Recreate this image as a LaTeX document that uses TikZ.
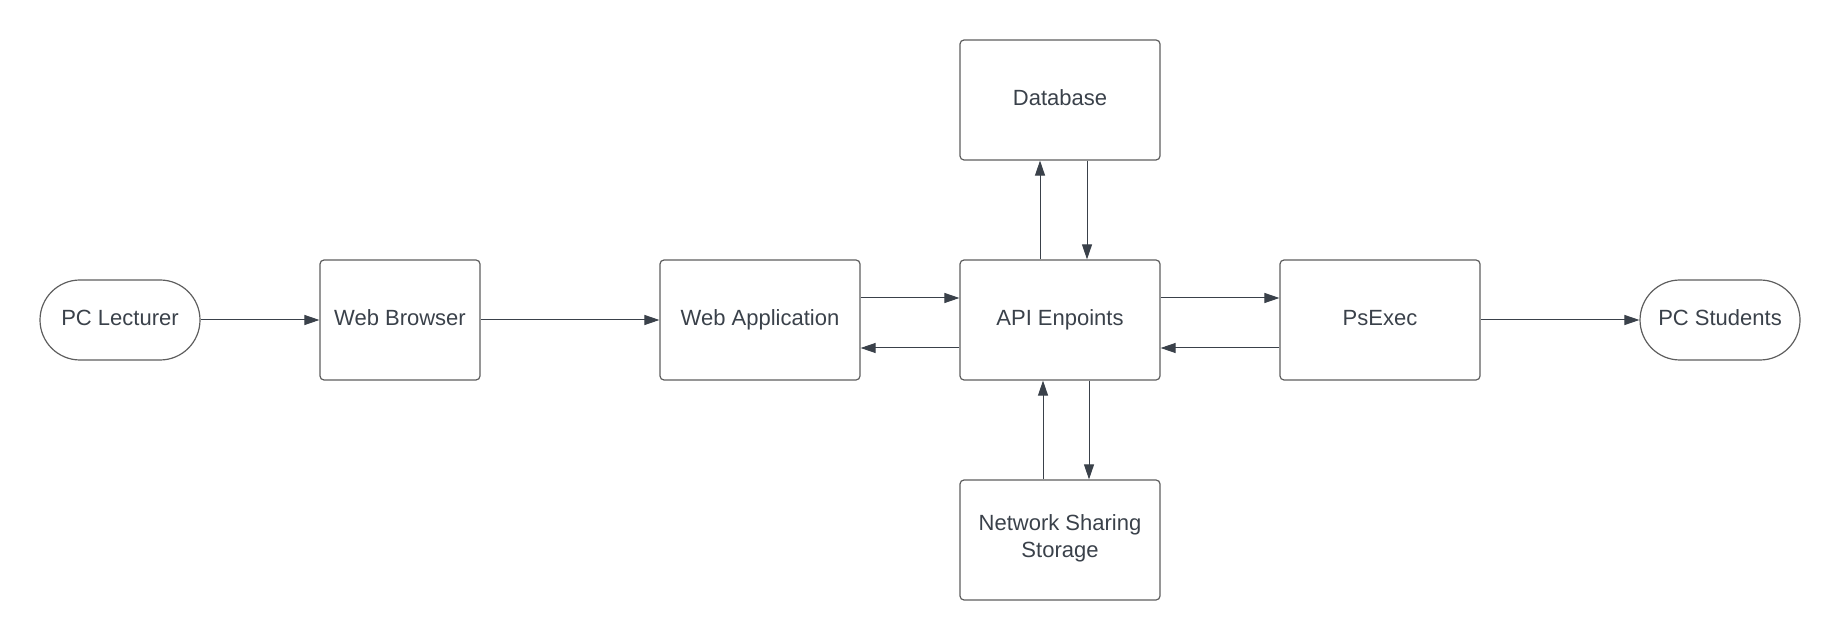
\documentclass[tikz,border=0pt]{standalone}
\usepackage{fontspec}
\setmainfont{Liberation Sans}
\usepackage{tikz}
\usetikzlibrary{arrows.meta}
\definecolor{lineclr}{HTML}{3A414A}
\definecolor{boxclr}{HTML}{5E5E5E}
\begin{document}
\begin{tikzpicture}[x=0.5pt,y=-0.5pt,
    >={Triangle[length=7.5pt,width=5pt]},
    box/.style={shape=rectangle,draw=boxclr,line width=0.6pt,rounded corners=2pt,minimum width=100pt,minimum height=60pt,inner sep=0pt,text=lineclr,align=center,text height=8pt,text depth=2pt},
    pc/.style={shape=rectangle,draw=boxclr,line width=0.6pt,rounded corners=20pt,minimum width=80pt,minimum height=40pt,inner sep=0pt,text=lineclr,text height=8pt,text depth=2pt},
    every path/.style={line width=0.5pt},
    font=\fontsize{11}{13.5}\selectfont]
        \useasboundingbox (0,0) rectangle (1840,640);
        \node[pc] (lect) at (120,320) {PC Lecturer};
        \node[box,minimum width=80pt] (browser) at (400,320) {Web Browser};
        \node[box] (webapp) at (760,320) {Web Application};
        \node[box] (api) at (1060,320) {API Enpoints};
        \node[box] (psexec) at (1380,320) {PsExec};
        \node[pc] (students) at (1720,320) {PC Students};
        \node[box] (db) at (1060,100) {Database};
        \node[box,text height=21.5pt,text depth=4.3pt] (nss) at (1060,540) {Network Sharing\\Storage};
        \draw [->,lineclr] (lect) -- (browser);
        \draw [->,lineclr] (browser) -- (webapp);
        \draw [->,lineclr] ([yshift=11pt]webapp.east) -- ([yshift=11pt]api.west);
        \draw [->,lineclr] ([yshift=-14pt]api.west) -- ([yshift=-14pt]webapp.east);
        \draw [->,lineclr] ([yshift=11pt]api.east) -- ([yshift=11pt]psexec.west);
        \draw [->,lineclr] ([yshift=-14pt]psexec.west) -- ([yshift=-14pt]api.east);
        \draw [->,lineclr] (psexec) -- (students);
        \draw [->,lineclr] ([xshift=-10pt]api.north) -- ([xshift=-10pt]db.south);
        \draw [->,lineclr] ([xshift=13.5pt]db.south) -- ([xshift=13.5pt]api.north);
        \draw [->,lineclr] ([xshift=-8.5pt]nss.north) -- ([xshift=-8.5pt]api.south);
        \draw [->,lineclr] ([xshift=14.5pt]api.south) -- ([xshift=14.5pt]nss.north);
    \end{tikzpicture}
\end{document}
